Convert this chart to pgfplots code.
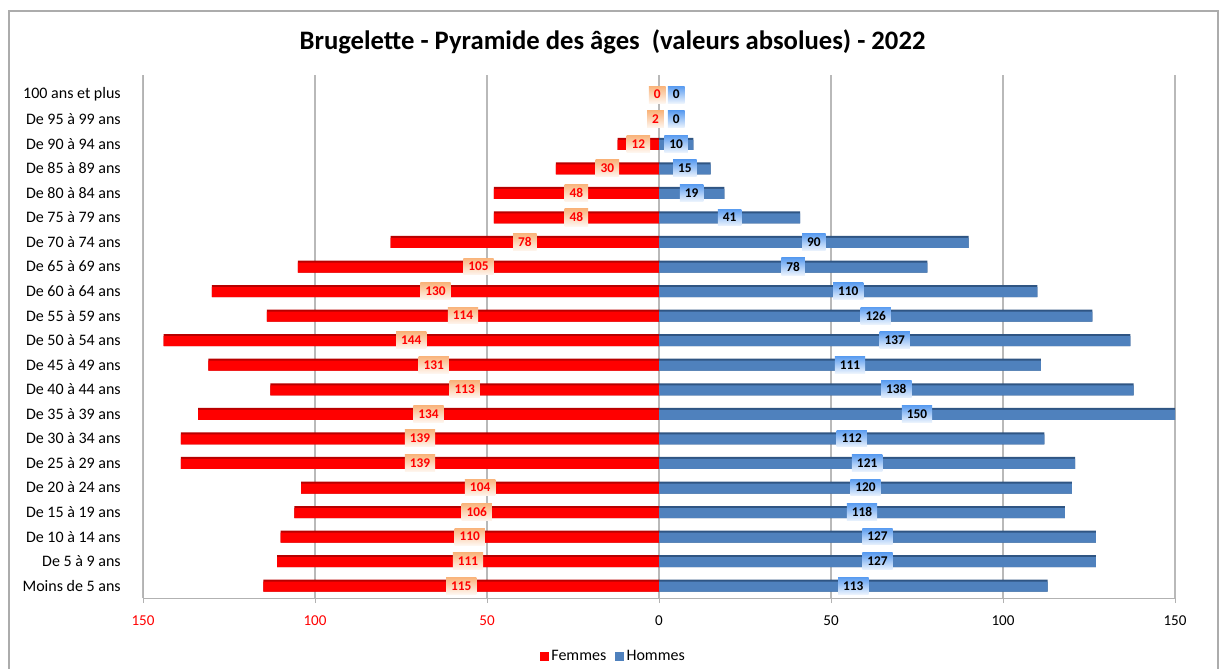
\documentclass[border=0pt]{standalone}
\usepackage{pgfplots}
\pgfplotsset{compat=1.18}
\usepackage{pgfplotstable}
\usepackage{fontspec}
\setmainfont{Carlito}
\definecolor{fem}{HTML}{FF0000}
\definecolor{femdark}{HTML}{B80000}
\definecolor{hom}{HTML}{4F81BD}
\definecolor{homdark}{HTML}{2F5583}
\definecolor{femlab}{HTML}{F9B47C}
\definecolor{homlab}{HTML}{5A9CF0}
\newlength\px
\setlength\px{0.75pt}
\pgfplotstableread{
y f h
0 115 113
1 111 127
2 110 127
3 106 118
4 104 120
5 139 121
6 139 112
7 134 150
8 113 138
9 131 111
10 144 137
11 114 126
12 130 110
13 105 78
14 78 90
15 48 41
16 48 19
17 30 15
18 12 10
19 2 0
20 0 0
}\data
\begin{document}
\begin{tikzpicture}
\path[use as bounding box] (0,0) rectangle (1224\px,668\px);
\draw[gray!65, line width=1.2\px] (9\px,-2\px) -- (9\px,657\px) -- (1218\px,657\px) -- (1218\px,-2\px);
\begin{axis}[
  at={(143\px,70\px)}, anchor=south west,
  scale only axis, width=1032\px, height=523\px,
  xmin=-150, xmax=150, ymin=-0.5, ymax=20.8,
  axis x line*=bottom, axis y line*=left,
  axis line style={gray!60, line width=1\px},
  xtick={-150,-100,...,150},
  xticklabels={\textcolor{red}{150},\textcolor{red}{100},\textcolor{red}{50},0,50,100,150},
  ytick={0,...,20},
  yticklabels={Moins de 5 ans, De 5 à 9 ans, De 10 à 14 ans, De 15 à 19 ans, De 20 à 24 ans, De 25 à 29 ans, De 30 à 34 ans, De 35 à 39 ans, De 40 à 44 ans, De 45 à 49 ans, De 50 à 54 ans, De 55 à 59 ans, De 60 à 64 ans, De 65 à 69 ans, De 70 à 74 ans, De 75 à 79 ans, De 80 à 84 ans, De 85 à 89 ans, De 90 à 94 ans, De 95 à 99 ans, 100 ans et plus},
  ytick style={draw=none},
  xtick style={gray!60, line width=1\px},
  major tick length=5\px, tick align=outside,
  xmajorgrids, grid style={gray!55, line width=1.2\px},
  yticklabel style={anchor=east, inner sep=0pt, xshift=-17\px, font=\fontsize{12}{14}\selectfont},
  xticklabel style={anchor=north, inner sep=0pt, yshift=-12\px, font=\fontsize{11.3}{13}\selectfont},
  title={Brugelette - Pyramide des âges\ \ (valeurs absolues) - 2022},
  title style={at={(0.455,1.048)}, anchor=center, font=\bfseries\fontsize{20}{23}\selectfont},
  legend style={at={(0.456,-0.112)}, anchor=center, draw=none, fill=none, legend columns=2,
    font=\fontsize{12}{14}\selectfont, /tikz/every even column/.append style={column sep=6\px}},
  legend image code/.code={\fill[#1] (0,-4\px) rectangle (9\px,5\px);},
  /pgf/number format/assume math mode=true,
]
\addplot[xbar, bar width=12\px, bar shift=0pt, fill=femdark, draw=none, forget plot] table[x expr=-\thisrow{f}, y=y]{\data};
\addplot[xbar, bar width=12\px, bar shift=0pt, fill=homdark, draw=none, forget plot] table[x=h, y=y]{\data};
\addplot[xbar, bar width=10\px, bar shift=-1\px, fill=fem, draw=none] table[x expr=-\thisrow{f}, y=y]{\data};
\addlegendentry{Femmes}
\addplot[xbar, bar width=10\px, bar shift=-1\px, fill=hom, draw=none] table[x=h, y=y]{\data};
\addlegendentry{Hommes}
\addplot[draw=none, forget plot, nodes near coords={\pgfmathprintnumber[assume math mode=true]{\pgfplotspointmeta}}, point meta=\thisrow{f},
  every node near coord/.append style={anchor=center, font=\bfseries\fontsize{10}{11}\selectfont, text=red,
    top color=femlab, bottom color=femlab!12, inner xsep=5\px, inner ysep=4\px}]
  table[x expr={min(-\thisrow{f}/2,-0.5)}, y=y]{\data};
\addplot[draw=none, forget plot, nodes near coords={\pgfmathprintnumber[assume math mode=true]{\pgfplotspointmeta}}, point meta=\thisrow{h},
  every node near coord/.append style={anchor=center, font=\bfseries\fontsize{10}{11}\selectfont, text=black,
    top color=homlab, bottom color=homlab!12, inner xsep=5\px, inner ysep=4\px}]
  table[x expr={max(\thisrow{h}/2,5)}, y=y]{\data};
\end{axis}
\end{tikzpicture}
\end{document}
